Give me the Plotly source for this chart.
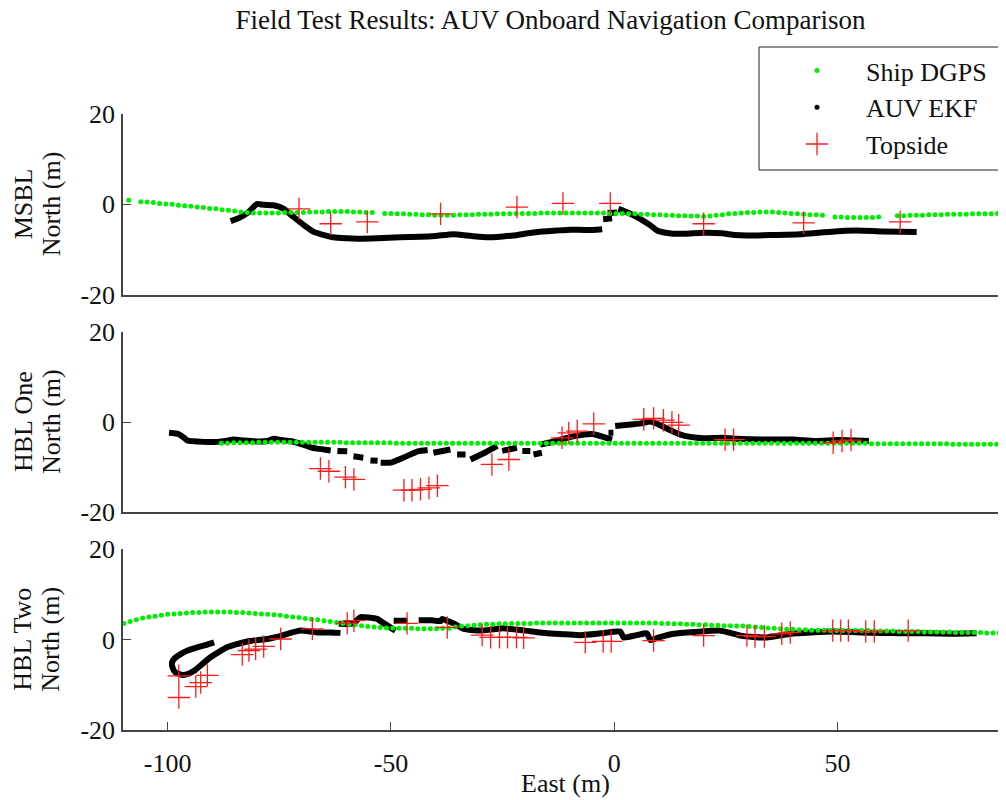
import plotly.graph_objects as go
from plotly.subplots import make_subplots

FONT = "Liberation Serif"

# ---------------- Panel 1: MSBL ----------------
msbl_dgps_x = [-108.7, -106.0, -104.6, -103.2, -101.8, -100.4, -99.0, -97.6, -96.2, -94.8,
               -93.4, -92.0, -90.6, -89.2, -87.8, -86.4, -85.0, -83.6, -82.2, -80.8,
               -79.4, -78.0, -76.6, -75.2, -73.8, -72.4, -71.0, -69.6, -68.2, -66.8,
               -65.4, -64.0, -62.6, -61.2, -59.8, -58.4, -57.0, -55.6, -54.2,
               -51.4, -50.0, -48.6, -47.2, -45.8, -44.4, -43.0, -41.6, -40.2, -38.8,
               -37.4, -36.0, -34.6, -33.2, -31.8, -30.4, -29.0, -27.6, -26.2, -24.8,
               -23.4, -22.0, -20.6, -19.2, -17.8, -16.4, -15.0, -13.6, -12.2, -10.8,
               -9.4, -8.0, -6.6, -5.2, -3.8, -2.4, -1.0, 0.4, 1.8, 3.2,
               4.6, 6.0, 7.4, 8.8, 10.2, 11.6, 13.0, 14.4, 15.8, 17.2,
               18.6, 20.0, 21.4, 22.8, 24.2, 25.6, 27.0, 28.4, 29.8, 31.2,
               32.6, 34.0, 35.4, 36.8, 38.2, 39.6, 41.0, 42.4, 43.8, 45.2, 46.6,
               49.4, 50.8, 52.2, 53.6, 55.0, 56.4, 57.8, 59.2,
               63.4, 64.8, 66.2, 67.6, 69.0, 70.4, 71.8, 73.2, 74.6, 76.0,
               77.4, 78.8, 80.2, 81.6, 83.0, 84.4, 85.8, 87.2]
msbl_dgps_y = [0.9, 0.6, 0.5, 0.4, 0.2, 0.1, 0.0, -0.2, -0.3, -0.4,
               -0.6, -0.7, -0.9, -1.0, -1.2, -1.3, -1.5, -1.7, -1.8, -1.9,
               -1.9, -1.9, -1.9, -1.9, -1.8, -1.8, -1.8, -1.8, -1.7, -1.7,
               -1.7, -1.6, -1.6, -1.6, -1.6, -1.7, -1.7, -1.8, -1.8,
               -2.0, -2.0, -2.1, -2.1, -2.2, -2.2, -2.3, -2.3, -2.4, -2.4,
               -2.4, -2.4, -2.3, -2.3, -2.3, -2.2, -2.2, -2.2, -2.1, -2.1,
               -2.1, -2.0, -2.0, -2.0, -2.0, -1.9, -1.9, -1.9, -1.9, -1.9,
               -1.9, -1.9, -1.9, -1.9, -1.9, -1.9, -2.0, -2.0, -2.0, -2.1,
               -2.1, -2.2, -2.2, -2.3, -2.3, -2.4, -2.4, -2.5, -2.5, -2.6,
               -2.6, -2.7, -2.6, -2.4, -2.3, -2.1, -2.0, -1.9, -1.8, -1.8,
               -1.7, -1.7, -1.7, -1.8, -1.9, -2.0, -2.1, -2.2, -2.3, -2.3, -2.4,
               -2.8, -2.8, -2.9, -2.9, -2.9, -2.9, -2.9, -2.8,
               -2.5, -2.5, -2.4, -2.4, -2.4, -2.3, -2.3, -2.3, -2.2, -2.2,
               -2.2, -2.2, -2.1, -2.1, -2.1, -2.1, -2.0, -2.0]

msbl_ekf_x = [
    [-85.9, -84.0, -82.0, -80.5, -79.9, -78.5, -76.3, -74.0, -71.8, -69.5, -67.3, -65.0,
     -62.9, -60.0, -57.5, -53.0, -47.9, -43.4, -40.0, -36.0, -32.0, -28.4, -25.0, -22.6,
     -20.0, -17.2, -13.0, -9.8, -6.0, -2.7],
    [-2.5, -0.5],
    [-1.5, 0.6],
    [0.9, 3.0, 5.8, 8.0, 9.6, 11.5, 13.2, 16.0, 19.9, 24.0, 27.0, 29.7, 35.0, 41.6,
     48.0, 54.3, 60.0, 67.7],
]
msbl_ekf_y = [
    [-3.7, -3.0, -1.8, -0.3, 0.1, -0.1, -0.2, -1.0, -2.8, -4.6, -6.1, -6.8,
     -7.3, -7.5, -7.6, -7.5, -7.3, -7.2, -7.0, -6.6, -7.0, -7.3, -7.1, -6.9,
     -6.5, -6.1, -5.8, -5.6, -5.7, -5.5],
    [-3.3, -3.1],
    [-1.9, -1.8],
    [-1.0, -1.8, -3.2, -4.6, -5.8, -6.3, -6.5, -6.5, -6.3, -6.4, -6.8, -6.9, -6.8, -6.6,
     -6.1, -5.8, -6.0, -6.1],
]

msbl_top_x = [-70.6, -63.5, -55.3, -38.9, -21.8, -11.5, -0.9, 20.0, 42.4, 64.0]
msbl_top_y = [-1.0, -4.3, -3.9, -2.1, -0.6, 0.2, 0.2, -4.3, -4.1, -3.9]

# ---------------- Panel 2: HBL One ----------------
hbl1_dgps_x = [-88.0, -86.6, -85.2, -83.8, -82.4, -81.0, -79.6, -78.2, -76.8, -75.4,
               -74.0, -72.6, -71.2, -69.8, -68.4, -67.0, -65.6, -64.2, -62.8, -61.4,
               -60.0, -58.6, -57.2, -55.8, -54.4, -53.0, -51.6, -50.2, -48.8, -47.4,
               -46.0, -44.6, -43.2, -41.8, -40.4, -39.0, -37.6, -36.2, -34.8, -33.4,
               -32.0, -30.6, -29.2, -27.8, -26.4, -25.0, -23.6, -22.2, -20.8, -19.4,
               -18.0, -16.6, -15.2, -13.8, -12.4, -11.0, -9.6, -8.2, -6.8, -5.4,
               -4.0, -2.6, -1.2, 0.2, 1.6, 3.0, 4.4, 5.8, 7.2, 8.6,
               10.0, 11.4, 12.8, 14.2, 15.6, 17.0, 18.4, 19.8, 21.2, 22.6,
               24.0, 25.4, 26.8, 28.2, 29.6, 31.0, 32.4, 33.8, 35.2, 36.6,
               38.0, 39.4, 40.8, 42.2, 43.6, 45.0, 46.4, 47.8, 49.2, 50.6,
               52.0, 53.4, 54.8, 56.2, 57.6, 59.0, 60.4, 61.8, 63.2, 64.6,
               66.0, 67.4, 68.8, 70.2, 71.6, 73.0, 74.4, 75.8, 77.2, 78.6,
               80.0, 81.4, 82.8, 84.2, 85.6, 87.0]
hbl1_dgps_y = [-4.7, -4.7, -4.6, -4.6, -4.6, -4.6, -4.5, -4.5, -4.5, -4.5,
               -4.5, -4.5, -4.5, -4.5, -4.5, -4.5, -4.5, -4.5, -4.5, -4.5,
               -4.6, -4.6, -4.6, -4.6, -4.6, -4.6, -4.6, -4.6, -4.7, -4.7,
               -4.7, -4.7, -4.7, -4.7, -4.7, -4.7, -4.7, -4.7, -4.7, -4.7,
               -4.7, -4.7, -4.7, -4.7, -4.7, -4.7, -4.7, -4.7, -4.7, -4.7,
               -4.7, -4.7, -4.7, -4.7, -4.7, -4.7, -4.7, -4.7, -4.7, -4.7,
               -4.7, -4.7, -4.7, -4.7, -4.7, -4.7, -4.7, -4.7, -4.7, -4.7,
               -4.7, -4.7, -4.7, -4.7, -4.7, -4.7, -4.7, -4.7, -4.7, -4.7,
               -4.7, -4.7, -4.7, -4.7, -4.7, -4.7, -4.7, -4.7, -4.7, -4.7,
               -4.7, -4.7, -4.7, -4.7, -4.7, -4.7, -4.7, -4.7, -4.7, -4.7,
               -4.7, -4.7, -4.7, -4.7, -4.8, -4.8, -4.8, -4.8, -4.8, -4.8,
               -4.8, -4.8, -4.8, -4.8, -4.8, -4.8, -4.8, -4.9, -4.9, -4.9,
               -4.9, -4.9, -4.9, -4.9, -4.9, -4.9]

hbl1_ekf_x = [
    [-99.7, -97.5, -96.3, -95.6, -92.0, -88.9, -87.0, -85.2, -83.0, -80.0, -77.7, -76.3,
     -74.5, -72.5, -70.0, -68.0, -66.5, -63.5],
    [-62.0, -59.8],
    [-58.4, -56.2],
    [-54.6, -53.0],
    [-52.3, -50.1, -47.0, -44.0, -41.8],
    [-40.5, -36.7],
    [-35.2, -33.3],
    [-32.2, -29.0, -26.2],
    [-25.1, -21.8],
    [-20.6, -18.8],
    [-18.1, -16.2],
    [-16.6, -13.0, -10.6, -7.5, -4.6, -2.5, -0.5],
    [-1.3, -0.2],
    [0.2, 4.3, 6.0, 8.1, 10.0, 12.5, 14.8, 17.0, 20.0, 24.0, 27.0, 30.4, 35.0, 40.0,
     45.0, 50.0, 54.0, 57.0],
]
hbl1_ekf_y = [
    [-2.4, -2.7, -3.5, -4.1, -4.4, -4.4, -4.2, -3.9, -4.1, -4.3, -4.2, -3.7,
     -4.0, -4.2, -4.9, -5.6, -5.9, -6.3],
    [-6.4, -6.5],
    [-7.6, -7.9],
    [-8.5, -8.6],
    [-9.0, -9.0, -7.8, -6.5, -6.2],
    [-6.8, -6.1],
    [-7.2, -7.2],
    [-8.3, -6.8, -5.3],
    [-6.4, -5.7],
    [-6.4, -6.4],
    [-7.2, -6.8],
    [-5.0, -4.2, -3.5, -2.9, -2.7, -3.3, -3.9],
    [-2.4, -2.4],
    [-0.9, -0.5, -0.3, 0.1, -0.6, -1.8, -2.8, -3.3, -3.6, -3.5, -3.7, -3.8, -3.9, -3.9,
     -4.2, -4.0, -4.1, -4.2],
]

hbl1_top_x = [-65.8, -63.9, -60.2, -58.3, -47.1, -45.3, -43.4, -41.5, -39.6, -27.4, -23.6,
              -11.7, -10.2, -8.3, -4.6, 6.6, 8.8, 11.0, 12.9, 14.4, 24.8, 26.7, 49.0, 51.0, 53.0]
hbl1_top_y = [-10.3, -10.9, -12.2, -12.7, -15.1, -15.1, -14.9, -14.6, -14.1, -9.4, -8.3,
              -3.5, -2.4, -2.0, -0.4, 0.6, 0.8, 0.4, -0.1, -0.7, -3.9, -3.9, -4.6, -4.2, -4.0]

# ---------------- Panel 3: HBL Two ----------------
hbl2_dgps_x = [-109.8, -108.4, -107.0, -105.6, -104.2, -102.8, -101.4, -100.0, -98.6, -97.2,
               -95.8, -94.4, -93.0, -91.6, -90.2, -88.8, -87.4, -86.0, -84.6, -83.2,
               -81.8, -80.4, -79.0, -77.6, -76.2, -74.8, -73.4, -72.0, -70.6, -69.2,
               -67.8, -66.4, -65.0, -63.6, -62.2, -60.8, -59.4, -58.0, -56.6, -55.2,
               -53.8, -52.4, -51.0, -49.6, -48.2, -46.8, -45.4, -44.0, -42.6, -41.2,
               -39.8, -38.4, -37.0, -35.6, -34.2, -32.8, -31.4, -30.0, -28.6, -27.2,
               -25.8, -24.4, -23.0, -21.6, -20.2, -18.8, -17.4, -16.0, -14.6, -13.2,
               -11.8, -10.4, -9.0, -7.6, -6.2, -4.8, -3.4, -2.0, -0.6, 0.8,
               2.2, 3.6, 5.0, 6.4, 7.8, 9.2, 10.6, 12.0, 13.4, 14.8,
               16.2, 17.6, 19.0, 20.4, 21.8, 23.2, 24.6, 26.0, 27.4, 28.8,
               30.2, 31.6, 33.0, 34.4, 35.8, 37.2, 38.6, 40.0, 41.4, 42.8,
               44.2, 45.6, 47.0, 48.4, 49.8, 51.2, 52.6, 54.0, 55.4, 56.8,
               58.2, 59.6, 61.0, 62.4, 63.8, 65.2, 66.6, 68.0, 69.4, 70.8,
               72.2, 73.6, 75.0, 76.4, 77.8, 79.2, 80.6, 82.0, 83.4, 84.8,
               86.2, 87.6]
hbl2_dgps_y = [3.6, 4.0, 4.4, 4.8, 5.0, 5.2, 5.4, 5.6, 5.7, 5.8,
               5.9, 6.0, 6.0, 6.1, 6.1, 6.1, 6.1, 6.1, 6.0, 6.0,
               5.9, 5.8, 5.7, 5.6, 5.5, 5.4, 5.2, 5.0, 4.9, 4.7,
               4.5, 4.4, 4.2, 4.0, 3.8, 3.6, 3.4, 3.3, 3.1, 2.9,
               2.8, 2.7, 2.6, 2.6, 2.5, 2.5, 2.5, 2.4, 2.4, 2.4,
               2.4, 2.5, 2.5, 2.8, 3.0, 3.1, 3.2, 3.3, 3.4, 3.4,
               3.5, 3.5, 3.6, 3.6, 3.6, 3.6, 3.7, 3.7, 3.7, 3.7,
               3.7, 3.7, 3.7, 3.7, 3.7, 3.7, 3.7, 3.7, 3.7, 3.7,
               3.7, 3.7, 3.7, 3.7, 3.7, 3.7, 3.6, 3.6, 3.5, 3.5,
               3.4, 3.4, 3.3, 3.3, 3.2, 3.2, 3.1, 3.1, 3.0, 3.0,
               2.9, 2.8, 2.7, 2.6, 2.5, 2.4, 2.3, 2.3, 2.2, 2.2,
               2.1, 2.1, 2.1, 2.0, 2.0, 2.0, 2.0, 2.0, 2.0, 2.0,
               1.9, 1.9, 1.9, 1.9, 1.8, 1.8, 1.8, 1.8, 1.7, 1.7,
               1.7, 1.7, 1.7, 1.6, 1.6, 1.6, 1.6, 1.6, 1.5, 1.5,
               1.5, 1.5]

hbl2_ekf_x = [
    [-89.6, -91.5, -93.4, -95.5, -97.1, -98.5, -99.0, -98.9, -98.3, -96.7, -95.2, -94.1,
     -92.0, -90.4, -88.5, -86.7, -84.5, -82.2, -80.0, -77.7, -75.5, -73.2, -70.2, -68.0,
     -66.5, -63.5, -61.3],
    [-61.7, -58.5, -56.8, -55.0, -53.1, -51.6, -49.0],
    [-49.4, -46.3],
    [-43.8, -41.0, -38.9, -38.5, -37.5, -36.0, -33.7, -30.0, -27.0, -24.8, -20.0, -15.1,
     -11.0, -7.6, -3.0, 1.3, 2.1, 5.0, 7.3, 8.1, 10.0, 13.3, 18.0, 23.7, 25.5, 28.2,
     31.0, 34.2, 37.0, 39.4, 44.0, 49.1, 55.0, 60.0, 64.0, 70.0, 75.0, 81.1],
]
hbl2_ekf_y = [
    [-0.6, -1.2, -1.7, -2.4, -3.2, -4.2, -5.0, -6.2, -7.2, -7.8, -7.5, -6.9,
     -5.2, -3.9, -2.7, -1.7, -1.0, -0.4, -0.1, 0.15, 0.6, 1.3, 2.0, 1.8,
     1.6, 1.6, 1.5],
    [3.5, 3.6, 5.0, 4.9, 4.6, 3.6, 2.0],
    [4.2, 4.2],
    [4.3, 4.3, 4.1, 4.6, 4.2, 3.6, 2.4, 2.0, 2.3, 2.5, 2.0, 1.4,
     1.2, 1.0, 1.4, 1.8, 0.5, 1.0, 1.4, -0.1, 0.5, 1.3, 1.7, 2.0, 1.6, 0.9,
     0.6, 0.5, 0.9, 1.3, 1.6, 1.8, 1.6, 1.5, 1.4, 1.4, 1.3, 1.4],
]

hbl2_top_x = [-97.5, -97.5, -93.7, -92.6, -91.1, -83.3, -81.8, -80.3, -78.5, -74.7, -67.6,
              -59.8, -58.3, -46.4, -37.4, -29.6, -27.7, -25.7, -23.9, -21.9, -20.3, -6.5,
              -2.5, -0.7, 8.8, 20.0, 29.7, 31.5, 33.6, 37.5, 39.4, 48.9, 50.7, 52.4, 56.3,
              58.2, 65.8]
hbl2_top_y = [-8.0, -12.8, -10.4, -9.5, -7.9, -3.3, -2.4, -2.1, -1.5, 0.15, 2.4,
              3.6, 4.2, 3.6, 2.7, 1.0, 0.5, 0.5, 0.5, 0.5, 0.4, -0.6,
              -0.4, -0.4, -0.2, 0.9, 0.9, 0.7, 0.7, 1.3, 1.6, 2.0, 2.0, 2.0, 1.8,
              1.8, 2.0]

panel_labels = ["MSBL", "HBL One", "HBL Two"]
x_ticks = [-100, -50, 0, 50]
y_ticks = [-20, 0, 20]

GREEN = "#00ee00"
RED = "#ff1a1a"
TXT = "#111111"

panels = [
    (msbl_dgps_x, msbl_dgps_y, msbl_ekf_x, msbl_ekf_y, msbl_top_x, msbl_top_y),
    (hbl1_dgps_x, hbl1_dgps_y, hbl1_ekf_x, hbl1_ekf_y, hbl1_top_x, hbl1_top_y),
    (hbl2_dgps_x, hbl2_dgps_y, hbl2_ekf_x, hbl2_ekf_y, hbl2_top_x, hbl2_top_y),
]

# Figure geometry (the page adds an 8 px body margin around the figure)
W, H = 998, 792
ML, MR, MT, MB = 115, 0, 106, 70
PW, PH = W - ML - MR, H - MT - MB


def px_to_paper_x(px):
    return (px - ML) / PW


def px_to_paper_y(py):
    return (H - MB - py) / PH


fig = make_subplots(rows=3, cols=1, shared_xaxes=True, vertical_spacing=0.06)

for i, (dx, dy, ex, ey, tx, ty) in enumerate(panels):
    row = i + 1
    for sx, sy in zip(ex, ey):
        fig.add_trace(go.Scatter(x=sx, y=sy, mode="lines",
                                 line=dict(color="black", width=6, shape="spline", smoothing=0.5),
                                 showlegend=False, hoverinfo="skip"), row=row, col=1)
    fig.add_trace(go.Scatter(x=dx, y=dy, mode="markers", name="Ship DGPS",
                             marker=dict(color=GREEN, size=5),
                             showlegend=(i == 0), legendrank=1), row=row, col=1)
    fig.add_trace(go.Scatter(x=tx, y=ty, mode="markers", name="Topside",
                             marker=dict(symbol="cross-thin", size=16,
                                         line=dict(color=RED, width=1.3)),
                             showlegend=(i == 0), legendrank=3), row=row, col=1)

# legend entry for the EKF track (drawn as a thick trail of points)
fig.add_trace(go.Scatter(x=[None], y=[None], mode="markers", name="AUV EKF",
                         marker=dict(color="black", size=5), legendrank=2), row=1, col=1)

axis_common = dict(showgrid=False, zeroline=False, showline=True, linecolor="#444444",
                   linewidth=1.5, tickcolor="#444444", tickwidth=1.2,
                   tickfont=dict(family=FONT, size=26, color=TXT))

for r in (1, 2, 3):
    fig.update_yaxes(range=[-20, 20], tickvals=y_ticks, ticktext=[str(v) for v in y_ticks],
                     ticks="inside", ticklen=8, ticklabelstandoff=1, row=r, col=1, **axis_common)
    if r < 3:
        fig.update_xaxes(range=[-110, 87.7], ticks="", showticklabels=False, row=r, col=1,
                         **axis_common)
    else:
        fig.update_xaxes(range=[-110, 87.7], tickvals=x_ticks, ticktext=[str(v) for v in x_ticks],
                         ticks="inside", ticklen=8, ticklabelstandoff=9, row=r, col=1,
                         **axis_common)

# y-axis titles: two rotated lines per panel
for i, lab in enumerate(panel_labels):
    dom = fig.layout[f"yaxis{'' if i == 0 else i + 1}"].domain
    yc = (dom[0] + dom[1]) / 2
    fig.add_annotation(text=lab, xref="paper", yref="paper", x=px_to_paper_x(15), y=yc,
                       xanchor="center", yanchor="middle", textangle=-90, showarrow=False,
                       font=dict(family=FONT, size=26, color=TXT))
    fig.add_annotation(text="North (m)", xref="paper", yref="paper", x=px_to_paper_x(43), y=yc,
                       xanchor="center", yanchor="middle", textangle=-90, showarrow=False,
                       font=dict(family=FONT, size=26, color=TXT))

# x-axis title
fig.add_annotation(text="East (m)", xref="paper", yref="paper",
                   x=px_to_paper_x(557), y=px_to_paper_y(775),
                   xanchor="center", yanchor="middle", showarrow=False,
                   font=dict(family=FONT, size=26, color=TXT))

# legend frame (runs off the right edge like the reference)
fig.add_shape(type="rect", xref="paper", yref="paper",
              x0=px_to_paper_x(751), x1=px_to_paper_x(1010),
              y0=px_to_paper_y(162), y1=px_to_paper_y(39),
              line=dict(color="#222222", width=1), fillcolor="white", layer="above")

fig.update_layout(
    width=W, height=H,
    margin=dict(l=ML, r=MR, t=MT, b=MB),
    paper_bgcolor="white", plot_bgcolor="white",
    title=dict(text="Field Test Results: AUV Onboard Navigation Comparison",
               x=542.5 / W, xanchor="center", xref="container",
               y=1 - 12 / H, yanchor="middle", yref="container",
               font=dict(family=FONT, size=27, color=TXT)),
    legend=dict(x=px_to_paper_x(760), y=px_to_paper_y(39), xanchor="left", yanchor="top",
                bgcolor="rgba(0,0,0,0)", borderwidth=0,
                font=dict(family=FONT, size=26, color=TXT),
                itemwidth=88),
    showlegend=True,
)

fig.write_html("out.html")
